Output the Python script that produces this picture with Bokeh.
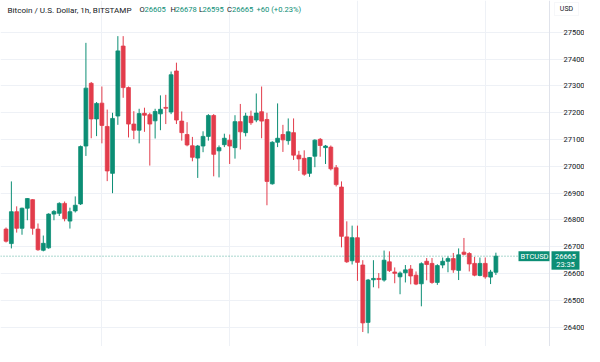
from bokeh.plotting import figure
from bokeh.models import ColumnDataSource, Label, FixedTicker, BoxAnnotation
from bokeh.embed import file_html
from bokeh.resources import INLINE

# ---- data (BTC/USD, 1h candles, Bitstamp) ----
opens = [26766, 26712, 26831, 26769, 26844, 26876, 26766, 26687, 26696, 26822,
         26825, 26862, 26796, 26834, 26860, 27076, 27310, 27177, 27236, 27149,
         26974, 27188, 27449, 27294, 27158, 27135, 27198, 27193, 27170, 27196,
         27220, 27203, 27356, 27169, 27119, 27077, 27031, 27076, 27112, 27190,
         27058, 27081, 27098, 27070, 27167, 27126, 27187, 27173, 27204, 27175,
         26935, 27090, 27119, 27096, 27126, 27042, 27030, 26974, 27038, 27101,
         27070, 27072, 26995, 26923, 26737, 26648, 26734, 26632, 26418, 26577,
         26582, 26576, 26644, 26606, 26588, 26603, 26617, 26594, 26562, 26646,
         26638, 26567, 26632, 26646, 26656, 26612, 26680, 26675, 26638, 26593,
         26638, 26587, 26605]
highs = [26772, 26944, 26851, 26846, 26882, 26878, 26787, 26742, 26825, 26837,
         26866, 26869, 26846, 26888, 27078, 27461, 27315, 27240, 27298, 27212,
         27200, 27486, 27486, 27298, 27206, 27215, 27219, 27200, 27215, 27265,
         27267, 27354, 27387, 27205, 27165, 27110, 27080, 27131, 27195, 27195,
         27078, 27122, 27119, 27191, 27233, 27200, 27208, 27272, 27298, 27200,
         27094, 27235, 27155, 27179, 27179, 27058, 27060, 27035, 27101, 27106,
         27080, 27078, 27005, 26944, 26795, 26779, 26779, 26650, 26580, 26650,
         26602, 26686, 26683, 26623, 26608, 26632, 26632, 26608, 26642, 26658,
         26658, 26635, 26660, 26664, 26677, 26694, 26733, 26680, 26662, 26660,
         26660, 26614, 26678]
lows = [26716, 26694, 26753, 26745, 26799, 26745, 26685, 26683, 26693, 26799,
        26815, 26795, 26768, 26828, 26856, 27039, 27105, 27113, 27086, 26945,
        26900, 27155, 27256, 27108, 27102, 27086, 27129, 27003, 27104, 27135,
        27158, 27195, 27158, 27096, 27075, 27019, 26957, 27053, 27096, 26963,
        26959, 27072, 27009, 27029, 27063, 27112, 27155, 27165, 27105, 26855,
        26932, 27072, 27054, 27081, 27024, 26983, 26965, 26961, 26997, 27036,
        27009, 26985, 26925, 26698, 26640, 26634, 26573, 26382, 26377, 26549,
        26545, 26570, 26606, 26564, 26523, 26567, 26560, 26557, 26478, 26575,
        26562, 26558, 26620, 26605, 26603, 26576, 26668, 26608, 26590, 26590,
        26581, 26561, 26595]
closes = [26721, 26831, 26769, 26844, 26880, 26769, 26689, 26713, 26822, 26832,
          26862, 26805, 26831, 26855, 27074, 27292, 27177, 27235, 27153, 26983,
          27179, 27431, 27294, 27158, 27135, 27197, 27191, 27158, 27205, 27213,
          27217, 27342, 27173, 27126, 27080, 27034, 27076, 27112, 27190, 27045,
          27070, 27105, 27076, 27167, 27129, 27188, 27163, 27199, 27169, 26944,
          27090, 27105, 27099, 27129, 27042, 27028, 26971, 27033, 27098, 27078,
          27076, 26991, 26932, 26739, 26644, 26734, 26642, 26416, 26576, 26582,
          26578, 26650, 26611, 26601, 26602, 26614, 26591, 26561, 26637, 26634,
          26567, 26630, 26646, 26656, 26614, 26670, 26672, 26636, 26594, 26638,
          26588, 26606, 26665]
price_ticks = [26400, 26500, 26600, 26700, 26800, 26900, 27000, 27100, 27200, 27300, 27400, 27500]
day_marks = [18, 42, 66, 90]
last_price = 26665
header_title = "Bitcoin / U.S. Dollar, 1h, BITSTAMP"
header_vals = [("O", "26605"), ("H", "26678"), ("L", "26595"), ("C", "26665")]
header_change = "+60 (+0.23%)"
countdown = "23:35"
symbol = "BTCUSD"
currency = "USD"

UP = "#0c8e75"
DOWN = "#e23c4b"
FONT = "Roboto"

W, H = 584, 346
X_START, X_END = -1.04, 108.64
Y_START, Y_END = 26328, 27619
PXU = W / (X_END - X_START)          # px per bar
PPP = (Y_END - Y_START) / H          # price per px
AXIS_PX = 549                         # price scale starts here (px from left)
AXIS_X = X_START + AXIS_PX / PXU


def xpx(px):
    return X_START + px / PXU


n = len(opens)
xs = list(range(n))
colors = [UP if c >= o else DOWN for o, c in zip(opens, closes)]
tops = [max(o, c) for o, c in zip(opens, closes)]
bots = [min(o, c) for o, c in zip(opens, closes)]
src = ColumnDataSource(dict(x=xs, o=opens, h=highs, l=lows, c=closes,
                            top=tops, bot=bots, color=colors))

p = figure(width=W, height=H, x_range=(X_START, X_END), y_range=(Y_START, Y_END),
           x_axis_location=None, y_axis_location="right",
           toolbar_location=None, output_backend="svg",
           min_border_left=0, min_border_top=0, min_border_bottom=0, min_border_right=0)
p.outline_line_color = None
p.background_fill_color = "white"

# grids
p.ygrid.ticker = FixedTicker(ticks=price_ticks)
p.ygrid.grid_line_color = "#eef1f6"
p.ygrid.bounds = (X_START, AXIS_X)
p.xgrid.ticker = FixedTicker(ticks=day_marks)
p.xgrid.grid_line_color = "#eef1f6"

# price scale
ax = p.yaxis[0]
ax.fixed_location = AXIS_X
ax.ticker = FixedTicker(ticks=price_ticks)
ax.major_tick_line_color = None
ax.minor_tick_line_color = None
ax.axis_line_color = "#e0e3eb"
ax.major_label_text_font = FONT
ax.major_label_text_font_size = "7.5px"
ax.major_label_text_color = "#131722"
ax.major_label_standoff = 8

# candles
p.segment(x0="x", y0="h", x1="x", y1="l", source=src, line_color="color", line_width=1)
p.vbar(x="x", top="top", bottom="bot", width=0.72, source=src,
       fill_color="color", line_color="color", line_width=0.8)

# last price line
p.segment(x0=[X_START], y0=[last_price], x1=[AXIS_X], y1=[last_price],
          line_color=UP, line_alpha=0.7, line_dash="1 2", line_width=1)

# symbol tag
p.add_layout(BoxAnnotation(left=xpx(518), right=AXIS_X,
                           top=last_price + 5 * PPP, bottom=last_price - 5 * PPP,
                           fill_color=UP, fill_alpha=1, line_color=None))
p.add_layout(Label(x=xpx(534), y=last_price, text=symbol,
                   text_align="center", text_baseline="middle",
                   text_font=FONT, text_font_size="7.5px", text_color="white"))
# price box
p.add_layout(BoxAnnotation(left=xpx(551), right=xpx(579),
                           top=last_price + 5 * PPP, bottom=last_price - 13.5 * PPP,
                           fill_color=UP, fill_alpha=1, line_color=None))
p.add_layout(Label(x=xpx(565), y=last_price, text=str(last_price),
                   text_align="center", text_baseline="middle",
                   text_font=FONT, text_font_size="7.5px", text_color="white"))
p.add_layout(Label(x=xpx(565), y=last_price - 8.5 * PPP, text=countdown,
                   text_align="center", text_baseline="middle",
                   text_font=FONT, text_font_size="7.5px", text_color="white"))
# currency box
p.add_layout(BoxAnnotation(left=xpx(554), right=xpx(578),
                           top=Y_END - 2 * PPP, bottom=Y_END - 15 * PPP,
                           fill_color="white", fill_alpha=1, line_color="#e0e3eb", line_width=1))
p.add_layout(Label(x=xpx(566), y=Y_END - 8.5 * PPP, text=currency,
                   text_align="center", text_baseline="middle",
                   text_font=FONT, text_font_size="7px", text_color="#131722"))

# header
hy = Y_END - 9 * PPP
p.add_layout(Label(x=xpx(7), y=hy, text=header_title,
                   text_baseline="middle", text_font=FONT, text_font_size="8.1px",
                   text_color="#131722"))
hx = [139, 170, 198.5, 226.5]
VFS = "7.6px"
for (k, v), xx in zip(header_vals, hx):
    p.add_layout(Label(x=xpx(xx), y=hy, text=k,
                       text_baseline="middle", text_font=FONT, text_font_size=VFS,
                       text_color="#131722"))
    p.add_layout(Label(x=xpx(xx + (3.5 if k == "L" else 5)), y=hy, text=v,
                       text_baseline="middle", text_font=FONT, text_font_size=VFS,
                       text_color=UP))
p.add_layout(Label(x=xpx(256), y=hy, text=header_change,
                   text_baseline="middle", text_font=FONT, text_font_size=VFS,
                   text_color=UP))

open("out.html", "w").write(file_html(p, INLINE))
